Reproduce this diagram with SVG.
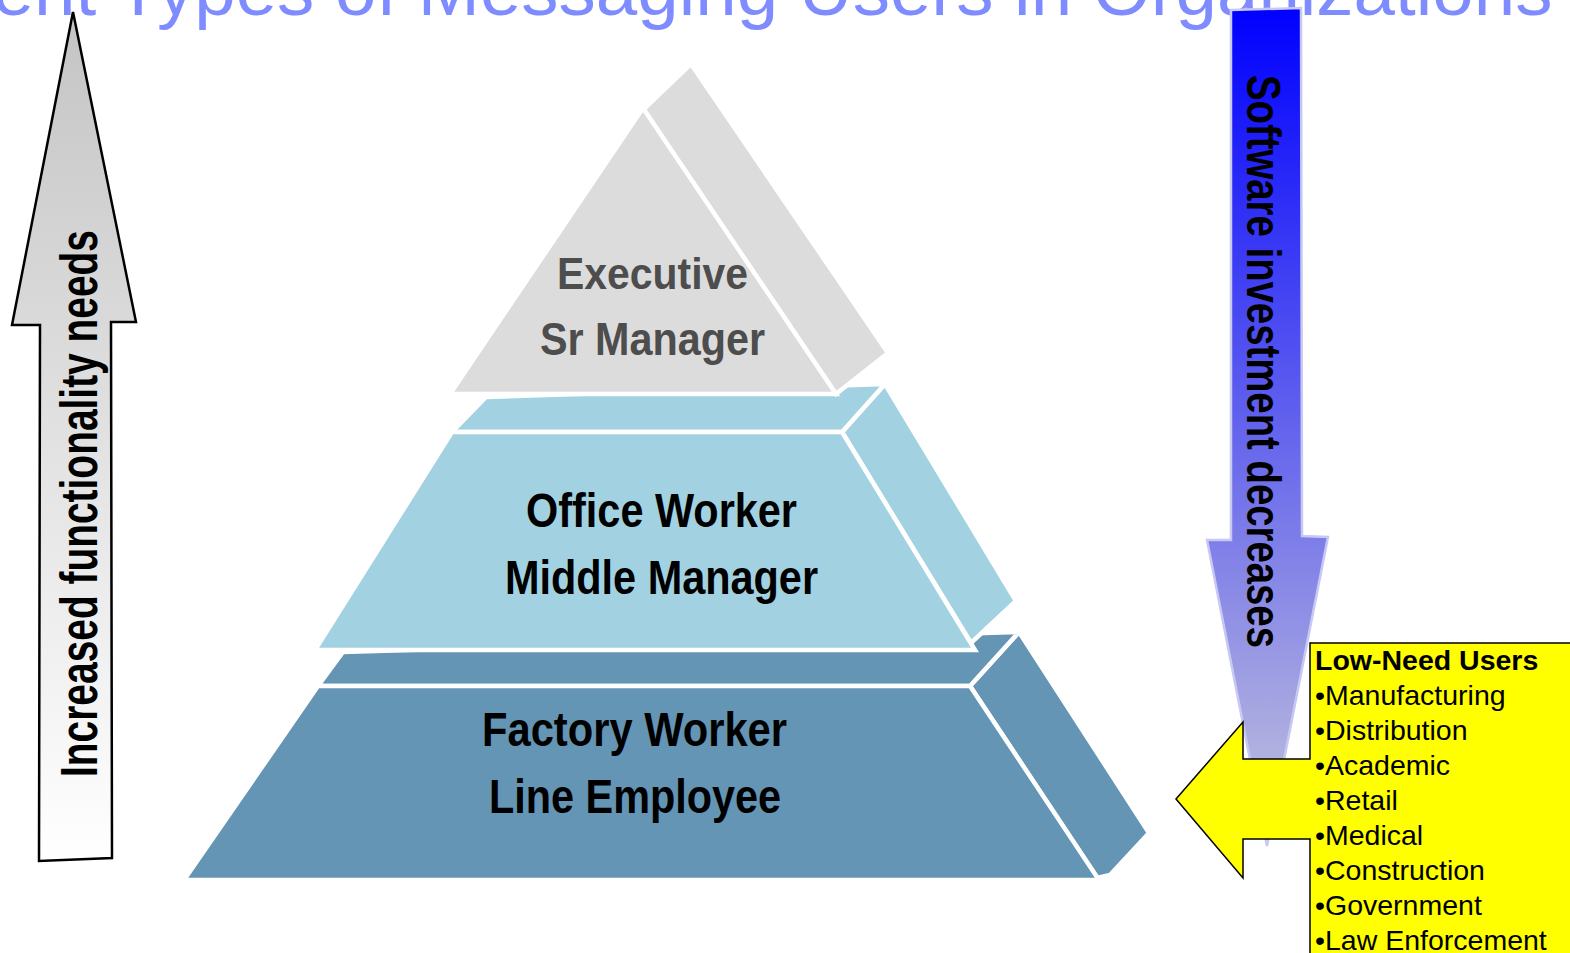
<svg xmlns="http://www.w3.org/2000/svg" width="1570" height="953" viewBox="0 0 1570 953">
<defs>
<linearGradient id="gLeft" gradientUnits="userSpaceOnUse" x1="0" y1="12" x2="0" y2="861">
<stop offset="0" stop-color="#c4c4c4"/>
<stop offset="1" stop-color="#ffffff"/>
</linearGradient>
<linearGradient id="gRight" gradientUnits="userSpaceOnUse" x1="0" y1="8" x2="0" y2="846">
<stop offset="0" stop-color="#0000ff"/>
<stop offset="1" stop-color="#c6c6dc"/>
</linearGradient>
<style>
.face{stroke:#ffffff;stroke-width:4.5;stroke-linejoin:miter}
.gray{fill:#dcdcdc}
.light{fill:#a2d2e2}
.steel{fill:#6495b4}
.lbl{font-family:"Liberation Sans",Arial,sans-serif;font-weight:bold;font-size:48px;fill:#000}
.box{font-family:"Liberation Sans",Arial,sans-serif;font-size:28.5px;fill:#000}
</style>
</defs>
<rect width="1570" height="953" fill="#ffffff"/>
<g id="title">
<text x="-184" y="15" font-family="Liberation Sans, Arial, sans-serif" font-size="74.5" fill="#7f8cff">Different Types of Messaging Users in Organizations</text>
</g>
<g id="tier-bottom">
<polygon class="face steel" points="970,686 1019,632 1149,833 1110,875 1097,878"/>
<polygon class="face steel" points="318,686 343,652 1019,632 970,686"/>
<polygon class="face steel" points="318,686 970,686 1099,880 184,880"/>
<text class="lbl" x="482" y="746" textLength="305" lengthAdjust="spacingAndGlyphs">Factory Worker</text>
<text class="lbl" x="489" y="813" textLength="292" lengthAdjust="spacingAndGlyphs">Line Employee</text>
</g>
<g id="tier-middle">
<polygon class="face light" points="842,432 885,384 1016,601 971,643"/>
<polygon class="face light" points="452,432 486,397 885,384 842,432"/>
<polygon class="face light" points="452,432 842,432 975,650 315,650"/>
<text class="lbl" x="526" y="527" textLength="271" lengthAdjust="spacingAndGlyphs">Office Worker</text>
<text class="lbl" x="505" y="594" textLength="313" lengthAdjust="spacingAndGlyphs">Middle Manager</text>
</g>
<g id="tier-top">
<polygon class="face gray" points="643,110 691,64 888,353 836,394"/>
<polygon class="face gray" points="643,108 836,394 450,394"/>
<text class="lbl" x="557" y="289" style="font-size:45px;fill:#4d4d4d" textLength="191" lengthAdjust="spacingAndGlyphs">Executive</text>
<text class="lbl" x="540" y="355" style="font-size:46px;fill:#4d4d4d" textLength="225" lengthAdjust="spacingAndGlyphs">Sr Manager</text>
</g>
<g id="arrow-left">
<polygon points="73,12 136,322 111,322 112,858 39,861 40,325 12,325" fill="url(#gLeft)" stroke="#000" stroke-width="2.5" stroke-linejoin="miter"/>
<text class="lbl" transform="translate(97,777) rotate(-90)" x="0" y="0" style="font-size:51px" textLength="547" lengthAdjust="spacingAndGlyphs">Increased functionality needs</text>
</g>
<g id="arrow-right">
<polygon points="1231,10 1301,8 1302,536 1328,537 1267,846 1207,540 1231,540" fill="url(#gRight)" stroke="#c8c8f4" stroke-width="2.5"/>
<text class="lbl" transform="translate(1247,75) rotate(90)" x="0" y="0" style="font-size:49px" textLength="573" lengthAdjust="spacingAndGlyphs">Software investment decreases</text>
</g>
<g id="callout">
<path d="M1310,643 L1580,643 L1580,960 L1310,960 L1310,839 L1243,839 L1243,878 L1176,799 L1243,722 L1243,759 L1310,759 Z" fill="#ffff00" stroke="#000" stroke-width="1.5"/>
<text class="box" x="1315" y="670" font-weight="bold">Low-Need Users</text>
<text class="box" x="1315" y="705">•Manufacturing</text>
<text class="box" x="1315" y="740">•Distribution</text>
<text class="box" x="1315" y="775">•Academic</text>
<text class="box" x="1315" y="810">•Retail</text>
<text class="box" x="1315" y="845">•Medical</text>
<text class="box" x="1315" y="880">•Construction</text>
<text class="box" x="1315" y="915">•Government</text>
<text class="box" x="1315" y="950">•Law Enforcement</text>
</g>
</svg>
